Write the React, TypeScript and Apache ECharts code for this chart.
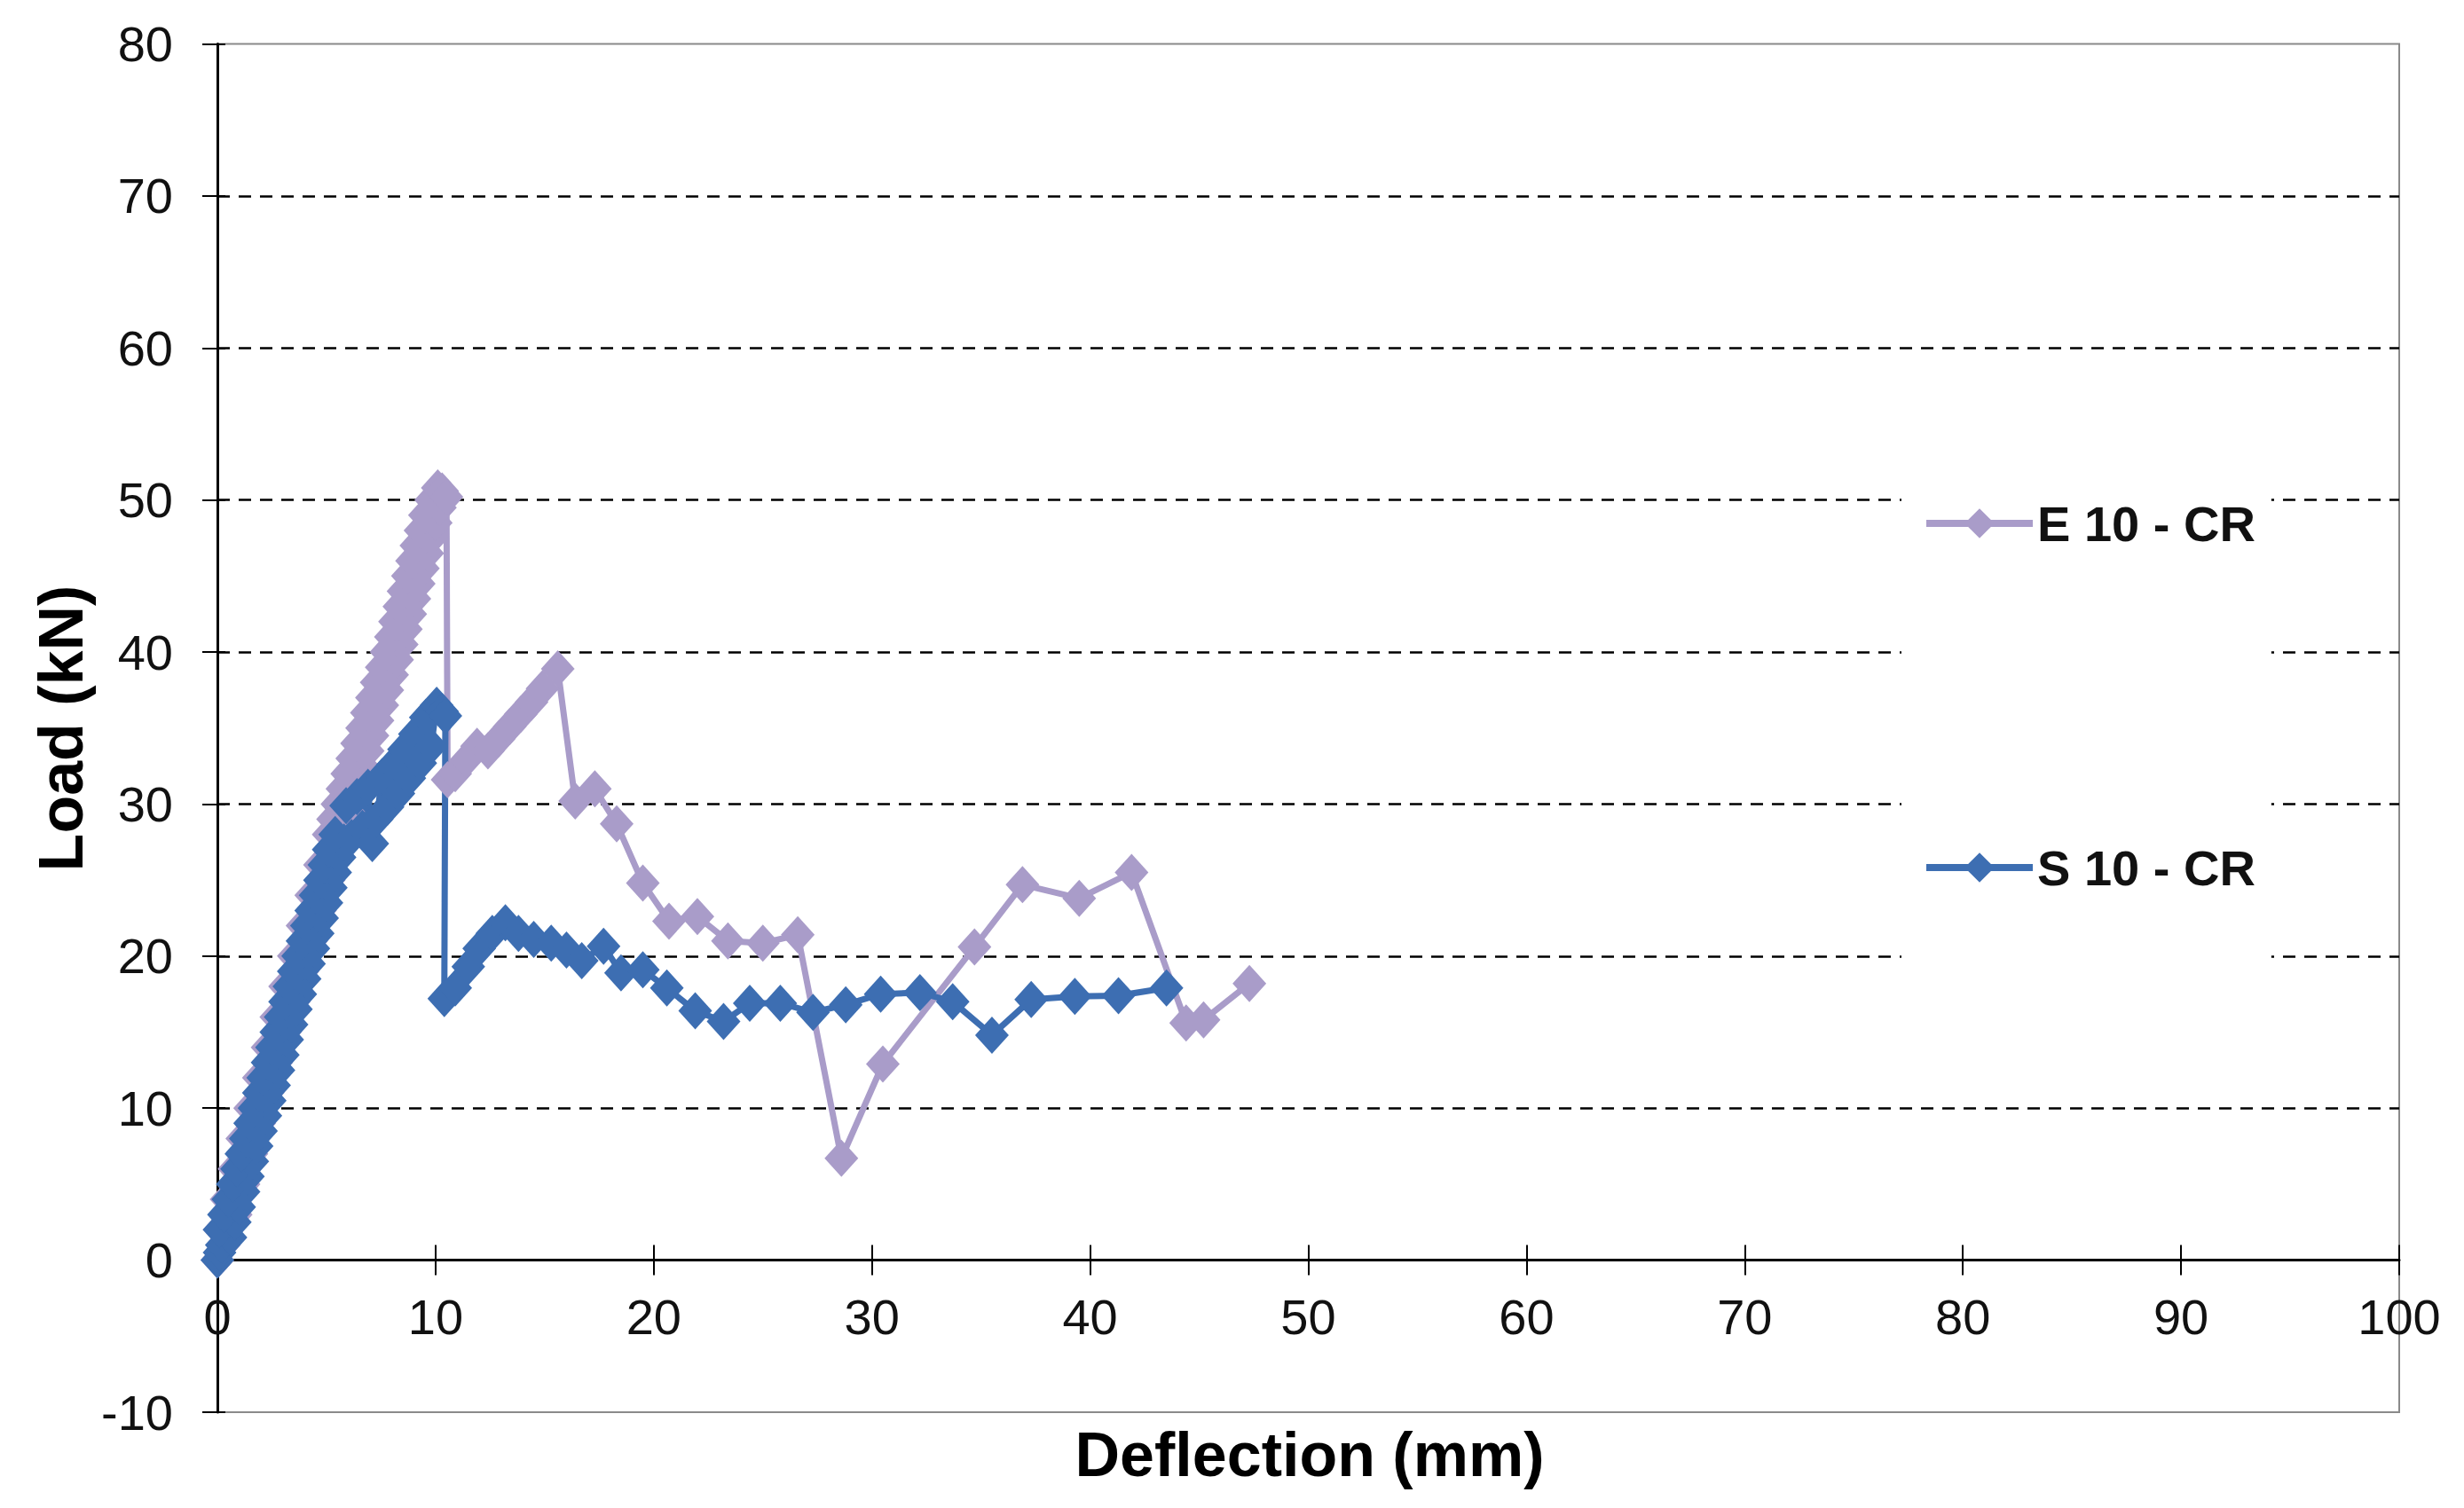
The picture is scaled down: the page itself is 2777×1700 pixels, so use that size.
import React, { useEffect, useRef } from "react";
import * as echarts from "echarts";

// E 10 - CR : deflection (mm) / load (kN)
const eDeflection = [
  0,0.3,0.1,0.84,0.42,1.2,0.78,1.56,1.14,1.92,1.5,2.3,1.9,2.7,2.3,3.1,2.7,3.5,3.1,3.9,3.5,4.3,3.9,4.7,4.3,5.1,4.7,5.5,5.1,
  5.8,5.3,6.0,5.5,6.21,5.73,6.44,5.95,6.66,6.18,6.89,6.4,7.11,6.63,7.34,6.85,7.56,7.08,7.79,7.3,8.01,7.53,8.24,7.75,8.45,7.95,8.64,8.14,8.84,8.34,9.03,8.53,9.23,8.73,9.42,8.92,9.62,9.12,9.81,9.31,10.01,9.51,10.2,9.8,
  10.1,10.3,10.5,10.55,10.9,11.4,11.9,12.4,12.9,13.4,13.9,14.4,14.9,15.6,16.4,17.3,18.3,19.5,20.7,22.0,23.4,25.0,26.6,28.6,30.5,34.7,36.9,39.5,41.9,44.4,45.2,47.3,
];
const eLoad = [
  0,1,2,3,4,5,6,7,8,9,10,11,12,13,14,15,16,17,18,19,20,21,22,23,24,25,26,27,28,
  28.5,29,29.5,30,30.5,31,31.5,32,32.5,33,33.5,34,34.5,35,35.5,36,36.5,37,37.5,38,38.5,39,39.5,40,40.5,41,41.5,42,42.5,43,43.5,44,44.5,45,45.5,46,46.5,47,47.5,48,48.5,49,49.5,50,
  50.8,50.6,50.2,31.6,32.0,32.9,33.8,33.5,34.3,35.1,35.9,36.7,37.6,38.9,30.2,31.0,28.7,24.8,22.3,22.6,21.0,20.85,21.4,6.7,12.9,20.6,24.7,23.8,25.5,15.6,15.8,18.2,
];

// S 10 - CR : deflection (mm) / load (kN)
const sDeflection = [
  0,0.1,0.2,0.6,0.1,0.8,0.3,1.0,0.5,1.2,0.7,1.4,0.9,1.6,1.1,1.8,1.3,2.0,1.5,2.2,1.7,2.4,1.9,2.6,2.1,2.8,2.3,3.0,2.5,3.2,2.7,3.4,2.9,3.6,3.1,3.8,3.3,4.0,3.5,4.2,3.7,4.4,3.9,4.6,4.1,4.8,4.3,5.0,4.5,5.2,4.7,5.4,4.9,5.6,5.1,5.8,5.4,
  5.9,6.15,6.4,6.65,6.9,7.1,7.3,7.55,7.8,8.05,8.3,8.55,8.8,9.05,9.3,9.55,9.8,10.05,10.3,10.45,
  10.4,10.9,11.5,12.0,12.6,13.2,13.8,14.5,15.3,16.0,16.7,17.7,18.5,19.5,20.6,21.9,23.2,24.4,25.8,27.3,28.8,30.4,32.2,33.7,35.5,37.3,39.3,41.3,43.5,
];
const sLoad = [
  0,0.5,1,1.5,2,2.5,3,3.5,4,4.5,5,5.5,6,6.5,7,7.5,8,8.5,9,9.5,10,10.5,11,11.5,12,12.5,13,13.5,14,14.5,15,15.5,16,16.5,17,17.5,18,18.5,19,19.5,20,20.5,21,21.5,22,22.5,23,23.5,24,24.5,25,25.5,26,26.5,27,27.5,28,
  29.9,27.8,30.5,28.4,31.1,27.4,29.0,31.8,29.8,32.6,30.7,33.6,31.7,34.6,32.7,35.7,33.8,36.5,36.1,35.8,
  17.2,17.9,19.3,20.5,21.5,22.2,21.5,21.1,20.85,20.4,19.7,20.65,18.9,19.1,17.9,16.4,15.7,16.9,16.9,16.3,16.8,17.5,17.6,17.0,14.8,17.15,17.35,17.4,17.9,
];

const seriesNames = ["E 10 - CR", "S 10 - CR"];
const seriesColors = ["#A99CC9", "#3D6EB2"];
const xRange = [0, 100];
const yRange = [-10, 80];
const xTitle = "Deflection (mm)";
const yTitle = "Load (kN)";

const FONT = '"Liberation Sans", Arial, sans-serif';

const zip = (xs: number[], ys: number[]) => xs.map((x, i) => [x, ys[i]]);

export default function App() {
  const ref = useRef<HTMLDivElement>(null);
  useEffect(() => {
    if (!ref.current) return;
    const chart = echarts.init(ref.current, undefined, { renderer: "svg" });
    const labelStyle = { fontSize: 56, color: "#111", fontFamily: FONT };
    const gridTop = 49.5;
    const gridHeight = 1542.5;
    // x axis crosses y at 0: shift it up from the grid bottom by the 0..-10 span
    const zeroOffset = -gridHeight * ((0 - yRange[0]) / (yRange[1] - yRange[0]));
    chart.setOption({
      animation: false,
      backgroundColor: "#fff",
      grid: {
        left: 245,
        top: gridTop,
        width: 2459,
        height: gridHeight,
        show: true,
        borderColor: "#8a8a8a",
        borderWidth: 2,
        backgroundColor: "transparent",
      },
      xAxis: [
        {
          type: "value",
          min: xRange[0],
          max: xRange[1],
          interval: 10,
          position: "bottom",
          offset: zeroOffset,
          axisLine: { show: true, onZero: false, lineStyle: { color: "#000", width: 3 } },
          axisTick: { show: true, inside: false, length: 17, lineStyle: { color: "#000", width: 2 } },
          axisLabel: { ...labelStyle, margin: 36 },
          splitLine: { show: false },
        },
        {
          type: "value",
          min: xRange[0],
          max: xRange[1],
          interval: 10,
          position: "bottom",
          offset: zeroOffset,
          axisLine: { show: false, onZero: false },
          axisTick: { show: true, inside: true, length: 17, lineStyle: { color: "#000", width: 2 } },
          axisLabel: { show: false },
          splitLine: { show: false },
        },
      ],
      yAxis: [
        {
          type: "value",
          min: yRange[0],
          max: yRange[1],
          interval: 10,
          position: "left",
          axisLine: { show: true, onZero: false, lineStyle: { color: "#000", width: 3 } },
          axisTick: { show: true, inside: false, length: 17, lineStyle: { color: "#000", width: 2 } },
          axisLabel: { ...labelStyle, margin: 50 },
          splitLine: {
            show: true,
            showMinLine: false,
            showMaxLine: false,
            lineStyle: { color: "#000", width: 2.5, type: [14, 10] },
          },
        },
        {
          type: "value",
          min: yRange[0],
          max: yRange[1],
          interval: 10,
          position: "left",
          axisLine: { show: false, onZero: false },
          axisTick: { show: true, inside: true, length: 9, lineStyle: { color: "#000", width: 2 } },
          axisLabel: { show: false },
          splitLine: { show: false },
        },
      ],
      legend: {
        orient: "vertical",
        left: 2143,
        top: 537,
        padding: [25, 18, 90, 24],
        backgroundColor: "#fff",
        itemWidth: 120,
        itemHeight: 42,
        itemGap: 332,
        lineStyle: { width: 8 },
        textStyle: { fontSize: 56, fontWeight: "bold", color: "#111", fontFamily: FONT, lineHeight: 56 },
        data: seriesNames,
      },
      graphic: [
        {
          type: "text",
          x: 69,
          y: 821,
          rotation: Math.PI / 2,
          style: {
            text: yTitle,
            fontSize: 70,
            fontWeight: "bold",
            fontFamily: FONT,
            fill: "#000",
            align: "center",
            verticalAlign: "middle",
          },
        },
        {
          type: "text",
          x: 1476,
          y: 1640,
          style: {
            text: xTitle,
            fontSize: 70,
            fontWeight: "bold",
            fontFamily: FONT,
            fill: "#000",
            align: "center",
            verticalAlign: "middle",
          },
        },
      ],
      series: [
        {
          name: seriesNames[0],
          type: "line",
          xAxisIndex: 0,
          yAxisIndex: 0,
          data: zip(eDeflection, eLoad),
          symbol: "diamond",
          symbolSize: [38, 42],
          showAllSymbol: true,
          color: seriesColors[0],
          lineStyle: { color: seriesColors[0], width: 7 },
          itemStyle: { color: seriesColors[0] },
        },
        {
          name: seriesNames[1],
          type: "line",
          xAxisIndex: 0,
          yAxisIndex: 0,
          data: zip(sDeflection, sLoad),
          symbol: "diamond",
          symbolSize: [38, 42],
          showAllSymbol: true,
          color: seriesColors[1],
          lineStyle: { color: seriesColors[1], width: 7 },
          itemStyle: { color: seriesColors[1] },
        },
      ],
    });
    return () => chart.dispose();
  }, []);
  return (
    <div
      ref={ref}
      style={{ position: "absolute", left: 0, top: 0, width: 2777, height: 1700, background: "#fff" }}
    />
  );
}
